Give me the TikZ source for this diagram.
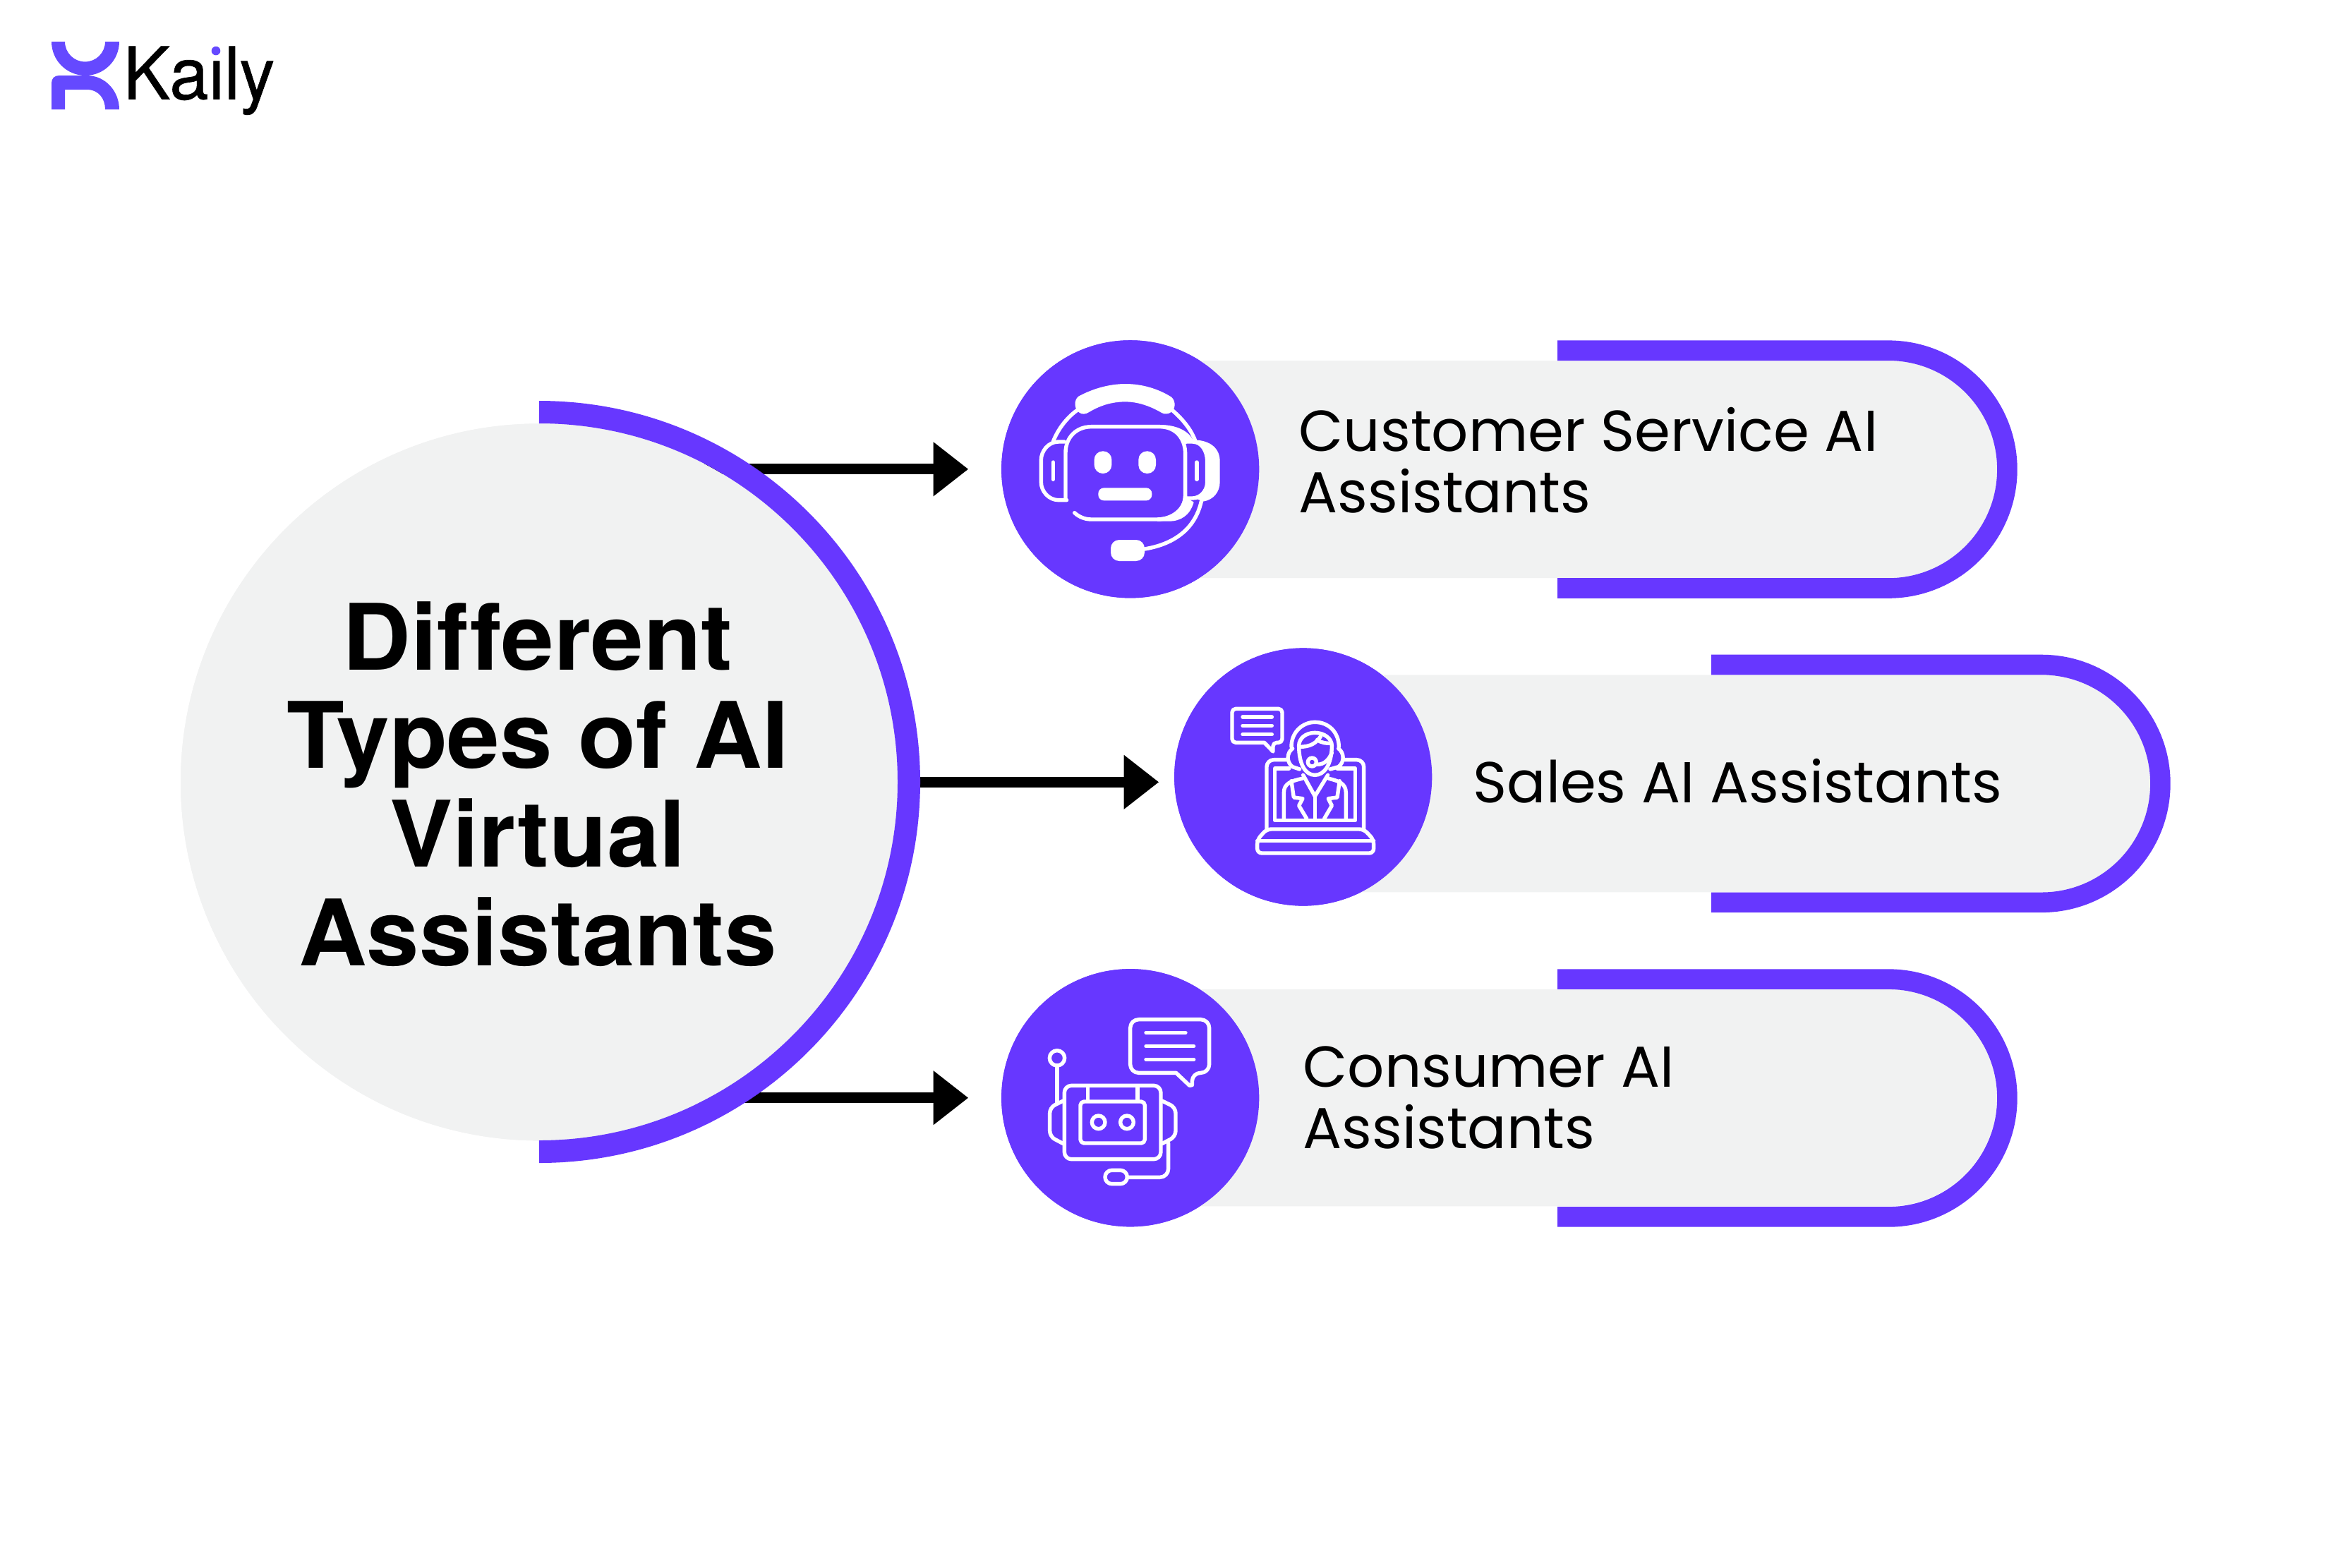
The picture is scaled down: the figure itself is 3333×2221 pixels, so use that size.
\documentclass[tikz,border=0pt]{standalone}
\usepackage{fontspec}
\usepackage{tikz}
\usetikzlibrary{arrows.meta}
\newfontfamily\titlefont[FakeStretch=1.03,Ligatures=NoCommon]{TeX Gyre Heros}
\newfontfamily\labelfont{Poppins}
\newfontfamily\logofont[FakeStretch=0.97,FakeBold=0.6]{TeX Gyre Heros}
\definecolor{kailypurple}{HTML}{6737FF}
\definecolor{logopurple}{HTML}{6549FF}
\definecolor{panelgray}{HTML}{F1F2F2}
\tikzset{
  hubdisc/.style={circle,fill=panelgray,minimum size=254pt,inner sep=0pt},
  icondisc/.style={circle,fill=kailypurple,minimum size=91.3pt,inner sep=0pt},
  ringline/.style={draw=kailypurple,line width=8pt},
  pillline/.style={draw=kailypurple,line width=7.15pt},
  pillbody/.style={fill=panelgray},
  linkline/.style={draw=black,line width=3.75pt,-{Triangle[length=12.4pt,width=18.4pt]}},
  textlabel/.style={inner sep=0pt,align=left,font=\labelfont\fontsize{20.45}{21.7}\selectfont},
  titletext/.style={inner sep=0pt,align=center,font=\titlefont\bfseries\fontsize{32.5}{34.97}\selectfont},
  iconline/.style={draw=white,line width=1.35pt,line cap=round,line join=round},
  iconfill/.style={fill=white},
  iconzoom/.style={x=0.08333pt,y=0.08333pt}
}
\begin{document}
\begin{tikzpicture}[x=0.25pt,y=0.25pt,yscale=-1,xscale=1]
\path [use as bounding box] (0,0) rectangle (3333,2221);

%Shape: Circle
\node (hub) [hubdisc] at (764,1108.3) {};
\node (icona) [icondisc] at (1601.7,664.8) {};
\node (iconb) [icondisc] at (1846.7,1101) {};
\node (iconc) [icondisc] at (1601.7,1555.7) {};

%Straight Lines
\draw [linkline,shorten >=11.5pt] (hub.center |- icona) -- (icona.west);
\draw [linkline,shorten >=5.25pt] (hub.east) -- (hub.east -| iconb.west);
\draw [linkline,shorten >=11.5pt] (hub.center |- iconc) -- (iconc.west);

%Shape: Circle
\node [hubdisc] at (hub.center) {};
%Curve Lines
\draw [ringline] (764,584) arc (-90:90:524);

%Shape: Pill
\fill [pillbody] (1601.7,511) -- (2676,511) arc (-90:90:154) -- (1601.7,819) -- cycle;
\draw [pillline] (2207,496.7) -- (2676,496.7) arc (-90:90:168.4) -- (2207,833.5);
\fill [pillbody] (1846.7,956.3) -- (2893,956.3) arc (-90:90:154) -- (1846.7,1264.3) -- cycle;
\draw [pillline] (2425,942) -- (2893,942) arc (-90:90:168.4) -- (2425,1278.8);
\fill [pillbody] (1601.7,1402) -- (2676,1402) arc (-90:90:153.7) -- (1601.7,1709.4) -- cycle;
\draw [pillline] (2207,1387.6) -- (2676,1387.6) arc (-90:90:168.4) -- (2207,1724.4);

%Shape: Circle
\node [icondisc] at (icona.center) {};
\node [icondisc] at (iconb.center) {};
\node [icondisc] at (iconc.center) {};

%Robot with headset
\begin{scope}[shift={(1400,470)},iconzoom]
\fill [iconfill] (385,275) .. controls (450,240) and (520,222) .. (585,222) .. controls (650,222) and (720,240) .. (780,278) .. controls (800,295) and (800,335) .. (770,347) .. controls (755,352) and (745,350) .. (730,340) .. controls (680,312) and (630,298) .. (585,298) .. controls (530,298) and (480,312) .. (430,342) .. controls (415,352) and (400,352) .. (390,345) .. controls (365,330) and (365,290) .. (385,275) -- cycle;
\draw [iconline] (278,465) .. controls (300,410) and (340,360) .. (385,330);
\draw [iconline] (785,335) .. controls (825,370) and (860,410) .. (880,460);
\draw [iconline] (330,715) -- (330,515) .. controls (330,450) and (375,404) .. (440,404) -- (730,404) .. controls (800,404) and (839,455) .. (839,520) -- (839,700);
\draw [iconline] (368,770) .. controls (390,790) and (415,798) .. (440,798) -- (720,798) .. controls (790,798) and (839,750) .. (839,700);
\fill [iconfill] (730,396) .. controls (800,396) and (850,420) .. (872,460) -- (840,478) .. controls (830,440) and (790,404) .. (730,404) -- cycle;
\fill [iconfill] (875,725) .. controls (860,780) and (820,806) .. (770,806) -- (720,806) -- (720,790) .. controls (780,790) and (830,750) .. (830,700) -- (848,708) -- cycle;
\draw [iconline] (325,468) -- (300,468) .. controls (255,468) and (226,510) .. (226,545) -- (226,640) .. controls (226,680) and (260,716) .. (300,716) -- (335,716);
\draw [iconline] (277,555) -- (277,628);
\draw [iconline] (845,468) -- (870,468) .. controls (910,468) and (932,510) .. (932,550) -- (932,640) .. controls (932,680) and (900,708) .. (870,708) -- (848,708);
\fill [iconfill] (870,460) .. controls (950,460) and (986,500) .. (986,550) -- (986,640) .. controls (986,680) and (960,715) .. (915,722) -- (880,708) .. controls (910,700) and (932,680) .. (932,640) -- (932,550) .. controls (932,510) and (910,476) .. (870,476) -- cycle;
\draw [iconline] (888,555) -- (888,628);
\fill [iconfill,rounded corners=3pt] (452,508) rectangle (526,603);
\fill [iconfill,rounded corners=3pt] (640,508) rectangle (714,603);
\fill [iconfill,rounded corners=2pt] (469,664) rectangle (697,718);
\fill [iconfill,rounded corners=3pt] (522,885) rectangle (666,975);
\draw [iconline] (660,925) .. controls (790,905) and (880,840) .. (907,722);
\end{scope}

%Agent on a laptop
\begin{scope}[shift={(1650,910)},iconzoom]
\draw [iconline] [rounded corners=1.3pt] (425,427) -- (288,427) -- (288,283) -- (501,283) -- (501,427) -- (462,427) [sharp corners] -- (462,465) -- cycle;
\draw [iconline] (333,318) -- (457,318);
\draw [iconline] (333,355) -- (457,355);
\draw [iconline] (333,392) -- (457,392);
\draw [iconline,rounded corners=2.5pt] (520,500) -- (435,500) -- (435,795);
\draw [iconline,rounded corners=2.5pt] (760,500) -- (848,500) -- (848,795);
\draw [iconline] (530,537) -- (470,537) -- (470,757) -- (812,757) -- (812,537) -- (735,537);
\draw [iconline,rounded corners=1.6pt] (435,795) -- (848,795) -- (890,840) -- (890,897) -- (395,897) -- (395,840) -- cycle;
\draw [iconline] (395,845) -- (890,845);
\draw [iconline] (540,445) .. controls (540,380) and (590,340) .. (640,340) .. controls (700,340) and (742,385) .. (742,445);
\draw [iconline] (545,452) .. controls (520,470) and (518,510) .. (545,530) -- (575,540);
\draw [iconline] (740,452) .. controls (765,470) and (767,510) .. (740,530) -- (705,540);
\draw [iconline] (572,440) .. controls (572,520) and (600,565) .. (640,565) .. controls (680,565) and (712,520) .. (712,440) .. controls (712,410) and (680,385) .. (640,385) .. controls (600,385) and (572,410) .. (572,440) -- cycle;
\draw [iconline] (575,445) .. controls (620,445) and (645,430) .. (665,400);
\draw [iconline] (650,415) .. controls (670,430) and (690,430) .. (710,430);
\draw [iconline] (628,510) circle (18);
\draw [iconline] (650,520) .. controls (680,520) and (700,500) .. (712,470);
\draw [iconline] (508,750) -- (508,640) .. controls (508,600) and (540,590) .. (585,580);
\draw [iconline] (772,750) -- (772,640) .. controls (772,600) and (740,590) .. (700,580);
\draw [iconline] (590,565) -- (640,655) -- (695,565);
\draw [iconline] (640,655) -- (640,750);
\draw [iconline] (540,590) -- (550,660) -- (588,665) -- (572,695) -- (605,750);
\draw [iconline] (745,590) -- (735,660) -- (697,665) -- (712,695) -- (680,750);
\end{scope}

%Robot with chat bubble
\begin{scope}[shift={(1400,1360)},iconzoom]
\draw [iconline] [rounded corners=3pt] (800,481) -- (605,481) -- (605,254) -- (941,254) -- (941,481) -- (868,481) [sharp corners] -- (868,533) -- (857,535) -- cycle;
\draw [iconline] (672,310) -- (840,310);
\draw [iconline] (672,367) -- (875,367);
\draw [iconline] (672,424) -- (875,424);
\draw [iconline] (294,418) circle (32);
\draw [iconline] (294,458) -- (294,610);
\draw [iconline,rounded corners=2.5pt] (325,535) rectangle (735,848);
\draw [iconline,rounded corners=1.3pt] (393,603) rectangle (667,780);
\draw [iconline] (424,540) -- (424,600);
\draw [iconline] (636,540) -- (636,600);
\draw [iconline] (470,691) circle (28);
\draw [iconline] (591,691) circle (28);
\draw [iconline,rounded corners=2pt] (320,600) -- (263,628) -- (263,752) -- (320,782);
\draw [iconline,rounded corners=2pt] (740,600) -- (798,628) -- (798,752) -- (740,782);
\draw [iconline,rounded corners=3pt] (767,780) -- (767,925) -- (595,925);
\draw [iconline,rounded corners=2.4pt] (498,895) rectangle (592,953);
\end{scope}

%Logo mark
\fill [logopurple] (73,59) arc (180:0:48) -- (149,59) arc (0:180:28.5) -- cycle;
\fill [logopurple] (73,155) -- (73,118) .. controls (73,111) and (77,107) .. (84,107) -- (123,107) .. controls (150,107) and (169,130) .. (169,155) -- (149,155) .. controls (149,140) and (140,127) .. (123,127) -- (92,127) -- (92,155) -- cycle;

% Text Node
\draw (174,140.5) node (logotext) [anchor=base west,inner sep=0pt,font=\logofont\fontsize{25.7}{25.7}\selectfont] {Kaily};
\fill [white] (294,58) rectangle (320,82);
\fill [logopurple] (306,72) circle (6.3);
% Text Node
\draw (762,1111) node (title) [titletext] {Different\\Types of AI\\Virtual\\Assistants};
% Text Node
\draw (1840,726.7) node (labela) [textlabel,anchor=base west] {Customer Service AI\\Assistants};
% Text Node
\draw (2087,1137.7) node (labelb) [textlabel,anchor=base west] {Sales AI Assistants};
% Text Node
\draw (1846,1627.7) node (labelc) [textlabel,anchor=base west] {Consumer AI\\Assistants};
\end{tikzpicture}
\end{document}
